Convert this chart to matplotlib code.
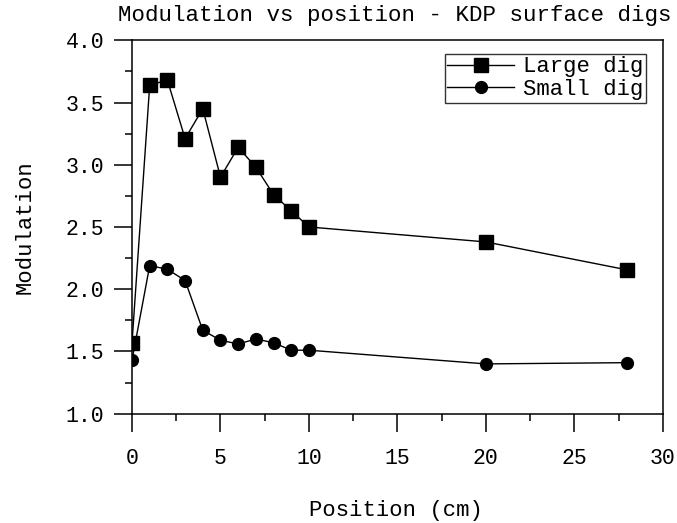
import matplotlib
matplotlib.use("Agg")
import matplotlib.pyplot as plt
from matplotlib.ticker import MultipleLocator, FormatStrFormatter

plt.rcParams['font.family'] = ['Liberation Mono', 'DejaVu Sans Mono']

position = [0, 1, 2, 3, 4, 5, 6, 7, 8, 9, 10, 20, 28]
large_dig = [1.57, 3.64, 3.68, 3.21, 3.45, 2.90, 3.14, 2.98, 2.76, 2.63, 2.50, 2.38, 2.155]
small_dig = [1.43, 2.19, 2.16, 2.07, 1.67, 1.59, 1.56, 1.60, 1.57, 1.51, 1.51, 1.40, 1.41]

fig = plt.figure(figsize=(6.77, 5.23), dpi=100)
ax = fig.add_axes([0.195, 0.209, 0.784, 0.714])

ax.plot(position, large_dig, color='black', lw=1.0, marker='s', ms=9.5,
        mfc='black', mec='black', label='Large dig')
ax.plot(position, small_dig, color='black', lw=1.0, marker='o', ms=8.5,
        mfc='black', mec='black', label='Small dig')

ax.set_xlim(0, 30)
ax.set_ylim(1.0, 4.0)
ax.xaxis.set_major_locator(MultipleLocator(5))
ax.xaxis.set_minor_locator(MultipleLocator(2.5))
ax.yaxis.set_major_locator(MultipleLocator(0.5))
ax.yaxis.set_minor_locator(MultipleLocator(0.25))
ax.yaxis.set_major_formatter(FormatStrFormatter('%.1f'))

ax.tick_params(which='major', direction='out', length=13, width=1.1,
               labelsize=15.5, colors='black')
ax.tick_params(which='minor', direction='out', length=5, width=1.1)
ax.tick_params(axis='x', which='major', pad=12)
ax.tick_params(axis='y', which='major', pad=7)

for sp in ax.spines.values():
    sp.set_linewidth(1.1)
    sp.set_color('black')

fig.text(0.583, 0.97, 'Modulation vs position - KDP surface digs',
         ha='center', va='center', fontsize=16.2)
fig.text(0.585, 0.023, 'Position (cm)', ha='center', va='center', fontsize=16)
fig.text(0.037, 0.565, 'Modulation', ha='center', va='center',
         rotation=90, fontsize=16)

leg = ax.legend(loc='upper right', bbox_to_anchor=(0.968, 0.964), fontsize=16,
                frameon=True, fancybox=False, handlelength=3.0,
                handletextpad=0.4, borderpad=0.12, labelspacing=0.08,
                borderaxespad=0.0)
leg.get_frame().set_edgecolor('black')
leg.get_frame().set_linewidth(1.0)

fig.savefig('out.png', dpi=100)
